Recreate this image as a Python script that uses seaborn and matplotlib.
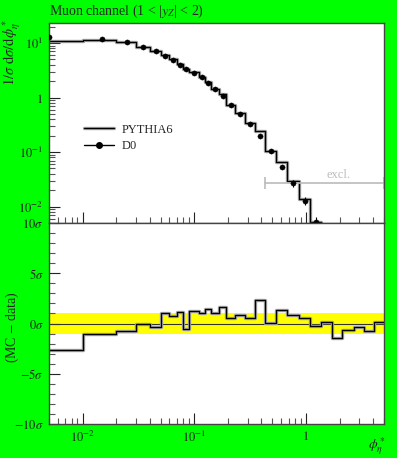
import numpy as np
import pandas as pd
import matplotlib
matplotlib.use("Agg")
import matplotlib.pyplot as plt
import matplotlib.patheffects as pe
from matplotlib.lines import Line2D
from matplotlib.ticker import FixedLocator, FixedFormatter, NullFormatter, MultipleLocator
import seaborn as sns

# Muon channel, 1 < |y_Z| < 2 : distribuicao de phi*_eta (dados vs PYTHIA6)

bordas = [0, 0.01, 0.02, 0.03, 0.04, 0.05, 0.06, 0.07, 0.08, 0.09, 0.11, 0.124,
          0.142, 0.166, 0.194, 0.233, 0.282, 0.347, 0.433, 0.543, 0.676, 0.865,
          1.08, 1.37, 1.71, 2.12, 2.67, 3.3, 4.05, 5.0]

dados = [13.05, 11.69, 10.56, 8.55, 7.13, 5.90, 4.88, 3.95, 3.33, 2.85, 2.35,
         1.88, 1.41, 1.09, 0.728, 0.509, 0.326, 0.199, 0.1056, 0.0537, 0.0267,
         0.0128, 0.00513, 0.0021, 0.0009, 0.0004, 0.00018, 0.00008, 0.00003]

dados_err = [0.15, 0.12, 0.11, 0.09, 0.08, 0.07, 0.06, 0.05, 0.045, 0.035, 0.03,
             0.025, 0.02, 0.016, 0.012, 0.009, 0.007, 0.005, 0.004, 0.003, 0.004,
             0.0022, 0.0012, 0.0006, 0.0003, 0.00015, 0.00008, 0.00004, 0.00002]

mc = [11.0, 11.5, 10.4, 8.55, 7.05, 6.1, 5.0, 4.08, 3.28, 2.97, 2.43, 1.96,
      1.46, 1.14, 0.745, 0.53, 0.337, 0.246, 0.106, 0.0664, 0.0297, 0.01355,
      0.0053, 0.0022, 0.0008, 0.00038, 0.00017, 0.00007, 0.000032]

desvio = [-2.67, -1.03, -0.77, 0.0, -0.33, 1.07, 0.73, 1.17, -0.53, 1.27, 1.07,
          1.4, 1.07, 1.67, 0.57, 0.87, 0.57, 2.33, 0.03, 1.37, 0.8, 0.53, -0.27,
          0.17, -1.43, -0.6, -0.37, -0.7, 0.13]

excl = [0.433, 5.0]

sns.set_theme(style="ticks")
plt.rcParams["font.family"] = ["Liberation Serif", "DejaVu Serif"]
plt.rcParams["mathtext.fontset"] = "stix"

x_borda = np.array(bordas, dtype=float)
x_borda[0] = 1e-3
centros = (np.array(bordas[:-1]) + np.array(bordas[1:])) / 2

df_mc = pd.DataFrame({"phi": x_borda, "mc": mc + [mc[-1]], "desvio": desvio + [desvio[-1]]})
df_dados = pd.DataFrame({"phi": centros, "dados": dados, "err": dados_err})

fig = plt.figure(figsize=(3.97, 4.58), dpi=100, facecolor="#00ff00")
ax1 = fig.add_axes([0.1234, 0.5131, 0.8438, 0.4373])
ax2 = fig.add_axes([0.1234, 0.0742, 0.8438, 0.4389])

sombra = [pe.withStroke(linewidth=2.4, foreground="#a0a0a0")]

for ax in (ax1, ax2):
    ax.set_facecolor("white")
    ax.set_xscale("log")
    ax.set_xlim(0.005, 5)
    for lado in ax.spines.values():
        lado.set_color("#444444")
        lado.set_linewidth(1.0)
    ax.tick_params(axis="both", which="both", direction="in", top=False, right=False,
                   labelsize=9, colors="#222222", pad=4)
    ax.tick_params(which="major", length=8, width=0.8)
    ax.tick_params(which="minor", length=4, width=0.8, color="#555555")
    ax.xaxis.set_major_locator(FixedLocator([0.01, 0.1, 1]))
    ax.xaxis.set_minor_locator(FixedLocator(
        [m * 10.0 ** e for e in (-3, -2, -1, 0) for m in range(2, 10)]))
    ax.xaxis.set_minor_formatter(NullFormatter())

# painel superior
ax1.set_yscale("log")
ax1.set_ylim(0.005, 23.6)
sns.lineplot(data=df_mc, x="phi", y="mc", drawstyle="steps-post", estimator=None,
             sort=False, color="black", linewidth=0.9, ax=ax1, path_effects=sombra)
ax1.errorbar(df_dados["phi"], df_dados["dados"], yerr=df_dados["err"], fmt="none",
             ecolor="black", elinewidth=0.8)
sns.scatterplot(data=df_dados, x="phi", y="dados", color="black", s=14,
                edgecolor="black", ax=ax1, zorder=5)

ax1.yaxis.set_major_locator(FixedLocator([0.01, 0.1, 1, 10]))
ax1.yaxis.set_major_formatter(FixedFormatter(["$10^{-2}$", "$10^{-1}$", "$1$", "$10^{1}$"]))
ax1.yaxis.set_minor_locator(FixedLocator(
    [m * 10.0 ** e for e in (-3, -2, -1, 0, 1) for m in range(2, 10)]))
ax1.yaxis.set_minor_formatter(NullFormatter())
ax1.set_xticklabels([])
ax1.set_xlabel("")
ax1.set_ylabel("")

# regiao excluida
ax1.plot(excl, [0.0267, 0.0267], color="#bbbbbb", linewidth=1.2,
         marker="|", markersize=8, markeredgewidth=1.2)
ax1.text(1.95, 0.038, "excl.", color="#bbbbbb", fontsize=9, ha="center", va="center")

legenda = [
    Line2D([], [], color="black", linewidth=0.9, path_effects=sombra),
    Line2D([], [], color="black", linewidth=1.0, marker="o", markersize=4),
]
ax1.legend(legenda, ["PYTHIA6", "D0"], loc="center left", bbox_to_anchor=(0.07, 0.425),
           frameon=False, fontsize=9, handlelength=2.4, labelspacing=0.35,
           handletextpad=0.6)

# painel inferior
ax2.set_ylim(-10, 10)
ax2.axhspan(-1, 1, color="#ffff00", linewidth=0, zorder=0)
ax2.axhline(0, color="#333333", linewidth=0.8)
sns.lineplot(data=df_mc, x="phi", y="desvio", drawstyle="steps-post", estimator=None,
             sort=False, color="black", linewidth=0.9, ax=ax2, path_effects=sombra)
ax2.yaxis.set_major_locator(FixedLocator([-10, -5, 0, 5, 10]))
ax2.yaxis.set_major_formatter(FixedFormatter(
    [r"$-10\sigma$", r"$-5\sigma$", r"$0\sigma$", r"$5\sigma$", r"$10\sigma$"]))
ax2.yaxis.set_minor_locator(MultipleLocator(1))
ax2.xaxis.set_major_formatter(FixedFormatter(["$10^{-2}$", "$10^{-1}$", "$1$"]))
ax2.set_xlabel("")
ax2.set_ylabel("")

# textos
fig.text(49 / 397, 1 - 11 / 458, r"Muon channel (1 < |$y_Z$| < 2)", fontsize=10,
         ha="left", va="center")
fig.text(12 / 397, 1 - 19 / 458, r"$1/\sigma\ \mathrm{d}\sigma/\mathrm{d}\phi^*_\eta$",
         fontsize=10.5, rotation=90, ha="center", va="top")
fig.text(12 / 397, 1 - 327 / 458, r"(MC $-$ data)", fontsize=10, rotation=90,
         ha="center", va="center")
fig.text(377 / 397, 1 - 446 / 458, r"$\phi^*_\eta$", fontsize=10, ha="center", va="center")

fig.savefig("out.png", dpi=100, facecolor=fig.get_facecolor())
